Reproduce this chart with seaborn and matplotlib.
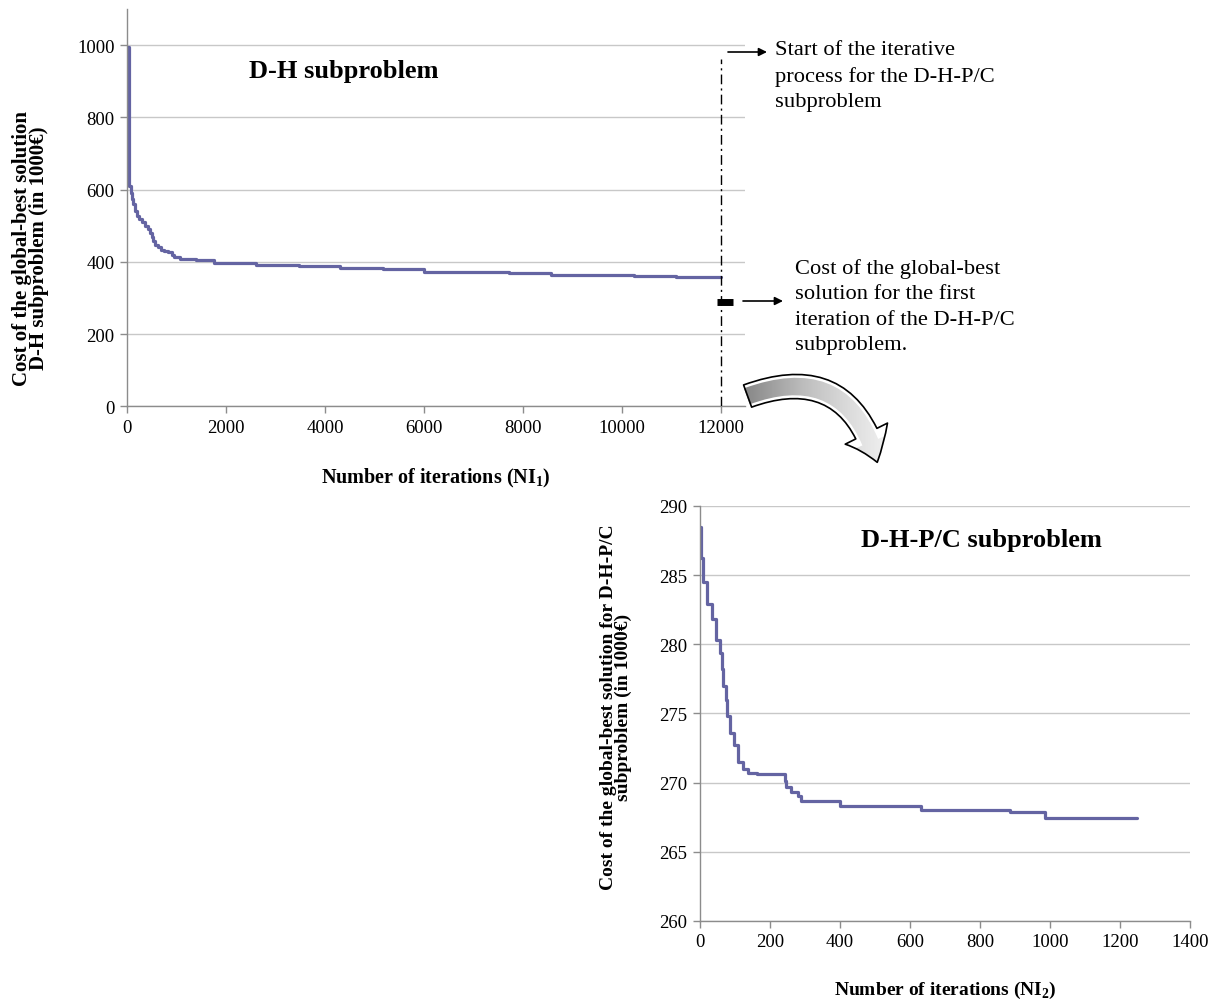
import numpy as np
import pandas as pd
import matplotlib
matplotlib.use("Agg")
import matplotlib.pyplot as plt
import seaborn as sns
from matplotlib.patches import FancyArrowPatch, ArrowStyle

# D-H subproblem: global-best cost per iteration (stepwise)
dh_iter = [0, 40, 70, 100, 130, 160, 200, 250, 300, 360, 430, 470, 500, 530,
           565, 620, 680, 750, 820, 900, 940, 1080, 1400, 1758, 2606, 3475,
           4303, 5165, 6000, 7717, 8560, 10242, 11104, 12000]
dh_cost = [995, 610, 590, 575, 560, 540, 527, 518, 509, 500, 490, 480, 468, 458,
           447, 440, 434, 430, 426, 420, 412, 408, 405, 397, 390, 387,
           383, 380, 373, 368, 364, 361, 357, 357]

# D-H-P/C subproblem
dhpc_iter = [0, 3, 10, 19, 33, 46, 57, 62, 67, 74, 76, 86, 97, 110, 124, 138,
             162, 233, 243, 247, 260, 280, 290, 400, 631, 886, 986, 1250]
dhpc_cost = [288.5, 286.2, 284.5, 282.9, 281.8, 280.3, 279.4, 278.2, 277.0,
             276.0, 274.8, 273.6, 272.7, 271.5, 271.0, 270.7, 270.6, 270.6,
             270.15, 269.7, 269.3, 269.0, 268.7, 268.3, 268.0, 267.9, 267.45,
             267.45]

start_iter = 12000          # start of D-H-P/C process
first_cost = [290]          # first-iteration cost shown on the D-H chart
first_iter = [12090]

line_color = "#6464a2"
grid_color = "#c8c8c8"
spine_color = "#8c8c8c"

sns.set_theme(style="white")
plt.rcParams["font.family"] = ["Liberation Serif", "DejaVu Serif"]
plt.rcParams["mathtext.fontset"] = "custom"
plt.rcParams["mathtext.rm"] = "Liberation Serif"
plt.rcParams["mathtext.bf"] = "Liberation Serif:bold"
plt.rcParams["text.color"] = "black"
plt.rcParams["axes.labelcolor"] = "black"

fig = plt.figure(figsize=(12.18, 10.03), dpi=100)
ax1 = fig.add_axes([0.1043, 0.594, 0.507, 0.396])
ax2 = fig.add_axes([0.5747, 0.0808, 0.4023, 0.4138])


def style_axis(ax):
    ax.grid(axis="y", color=grid_color, lw=1)
    ax.grid(axis="x", visible=False)
    for s in ["top", "right"]:
        ax.spines[s].set_visible(False)
    for s in ["left", "bottom"]:
        ax.spines[s].set_color(spine_color)
        ax.spines[s].set_linewidth(1)
    ax.tick_params(axis="both", which="major", length=5, width=1,
                   color=spine_color, labelsize=13.5, labelcolor="black",
                   direction="out", left=True, bottom=True, pad=4)


# top chart
df1 = pd.DataFrame({"iter": dh_iter, "cost": dh_cost})
sns.lineplot(data=df1, x="iter", y="cost", ax=ax1, color=line_color,
             lw=2.3, drawstyle="steps-post")
ax1.vlines(start_iter, 0, 962, colors="black", lw=1,
           linestyles=[(0, (7, 3, 1.5, 3))], zorder=4)
ax1.plot(first_iter, first_cost, marker="_", ms=11, mew=5, color="black",
         ls="none", zorder=5)
ax1.set_xlim(0, 12480)
ax1.set_ylim(0, 1100)
ax1.set_xticks(range(0, 12001, 2000))
ax1.set_yticks(range(0, 1001, 200))
style_axis(ax1)
ax1.set_xlabel(r"Number of iterations (NI$_{\mathbf{1}}$)", fontsize=14.5,
               fontweight="bold")
ax1.xaxis.set_label_coords(0.5, -0.150)
ax1.set_ylabel("Cost of the global-best solution\nD-H subproblem (in 1000€)",
               fontsize=15, fontweight="bold", linespacing=0.78)
ax1.yaxis.set_label_coords(-0.127, 0.40)
ax1.text(0.351, 0.845, "D-H subproblem", transform=ax1.transAxes,
         fontsize=19, fontweight="bold", ha="center", va="center")

# bottom chart
df2 = pd.DataFrame({"iter": dhpc_iter, "cost": dhpc_cost})
sns.lineplot(data=df2, x="iter", y="cost", ax=ax2, color=line_color,
             lw=2.3, drawstyle="steps-post")
ax2.set_xlim(0, 1400)
ax2.set_ylim(260, 290)
ax2.set_xticks(range(0, 1401, 200))
ax2.set_yticks(range(260, 291, 5))
style_axis(ax2)
ax2.set_xlabel(r"Number of iterations (NI$_{\mathbf{2}}$)", fontsize=14,
               fontweight="bold")
ax2.xaxis.set_label_coords(0.5, -0.140)
ax2.set_ylabel("Cost of the global-best solution for D-H-P/C\nsubproblem (in 1000€)",
               fontsize=14, fontweight="bold", linespacing=0.85)
ax2.yaxis.set_label_coords(-0.139, 0.518)
ax2.text(0.575, 0.92, "D-H-P/C subproblem", transform=ax2.transAxes,
         fontsize=19, fontweight="bold", ha="center", va="center")

# overlay in pixel coordinates for the annotations
ov = fig.add_axes([0, 0, 1, 1], zorder=10)
ov.set_xlim(0, 1218)
ov.set_ylim(1003, 0)
ov.axis("off")
ov.patch.set_alpha(0)

ov.annotate("", xy=(767, 53), xytext=(728, 53),
            arrowprops=dict(arrowstyle="-|>", color="black", lw=1.2,
                            mutation_scale=12, shrinkA=0, shrinkB=0))
ov.text(775, 41, "Start of the iterative\nprocess for the D-H-P/C\nsubproblem",
        fontsize=16.2, ha="left", va="top", linespacing=1.45)

ov.annotate("", xy=(783, 302), xytext=(743, 302),
            arrowprops=dict(arrowstyle="-|>", color="black", lw=1.2,
                            mutation_scale=12, shrinkA=0, shrinkB=0))
ov.text(795, 259, "Cost of the global-best\nsolution for the first\n"
        "iteration of the D-H-P/C\nsubproblem.",
        fontsize=16.2, ha="left", va="top", linespacing=1.45)

# curved block arrow with grey gradient
big = FancyArrowPatch((745, 398), (878, 466),
                      connectionstyle="arc3,rad=-0.55",
                      arrowstyle=ArrowStyle.Simple(head_length=1.3,
                                                   head_width=2.0,
                                                   tail_width=1.0),
                      mutation_scale=17, facecolor="none",
                      edgecolor="black", lw=1.2, zorder=3)
ov.add_patch(big)
grad = np.linspace(0, 1, 256).reshape(1, -1)
img = ov.imshow(grad, extent=(740, 885, 470, 370), cmap="Greys_r",
                vmin=-1.0, vmax=1.3, aspect="auto", zorder=2)
img.set_clip_path(big)
ov.set_xlim(0, 1218)
ov.set_ylim(1003, 0)

fig.savefig("out.png", dpi=100)
